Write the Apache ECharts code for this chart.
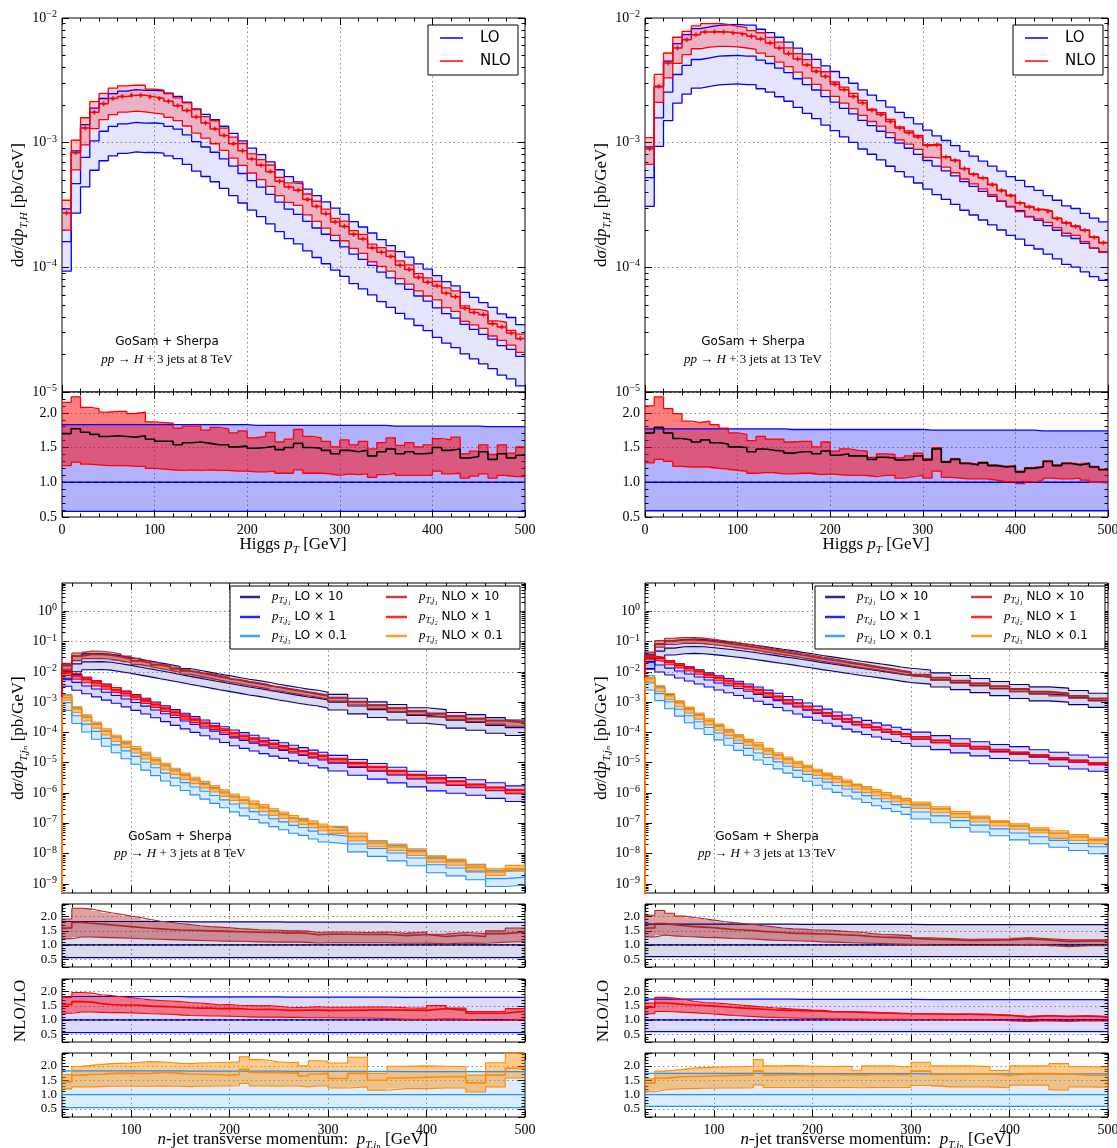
<!DOCTYPE html>
<html><head><meta charset="utf-8">
<script src="https://cdn.jsdelivr.net/npm/echarts@6/dist/echarts.min.js"></script>
<style>html,body{margin:0;padding:0;background:#fff}#c{width:1117px;height:1148px}</style>
</head><body><div id="c"></div>
<script>
// ---------------- DATA ----------------
// Higgs pT bins (GeV)
const HIGGS_EDGES = [0,10,20,30,40,50,60,70,80,90,100,110,120,130,140,150,160,170,180,190,200,210,220,230,240,250,260,270,280,290,300,310,320,330,340,350,360,370,380,390,400,410,420,430,440,450,460,470,480,490,500];
// 8 TeV: NLO central dsigma/dpT (pb/GeV)
const H8_NLO = [2.73e-4,8.3e-4,1.31e-3,1.75e-3,2.05e-3,2.26e-3,2.35e-3,2.40e-3,2.40e-3,2.33e-3,2.26e-3,2.15e-3,1.98e-3,1.81e-3,1.61e-3,1.44e-3,1.29e-3,1.14e-3,9.8e-4,8.6e-4,7.4e-4,6.6e-4,5.85e-4,4.9e-4,4.4e-4,4.15e-4,3.5e-4,3.08e-4,2.69e-4,2.31e-4,2.13e-4,1.84e-4,1.69e-4,1.43e-4,1.32e-4,1.22e-4,1.04e-4,9.6e-5,8.3e-5,7.6e-5,7.1e-5,6.2e-5,5.8e-5,4.7e-5,4.35e-5,4.17e-5,3.53e-5,3.32e-5,2.97e-5,2.68e-5];
// 8 TeV ratios to LO central
const H8_R = [1.70,1.77,1.72,1.69,1.66,1.67,1.66,1.65,1.67,1.62,1.59,1.59,1.54,1.57,1.58,1.56,1.54,1.54,1.51,1.52,1.49,1.50,1.52,1.47,1.50,1.56,1.50,1.49,1.46,1.41,1.46,1.44,1.46,1.38,1.44,1.48,1.41,1.44,1.41,1.42,1.50,1.46,1.48,1.35,1.37,1.44,1.33,1.41,1.35,1.39];
const H8_R_NLO_HI = [2.15,2.23,2.08,2.06,2.01,2.02,2.02,1.99,2.01,1.87,1.86,1.85,1.78,1.81,1.81,1.75,1.79,1.77,1.71,1.74,1.64,1.66,1.72,1.58,1.62,1.76,1.66,1.64,1.59,1.51,1.61,1.54,1.59,1.48,1.57,1.64,1.53,1.57,1.51,1.54,1.63,1.61,1.65,1.41,1.45,1.54,1.40,1.54,1.42,1.51];
const H8_R_NLO_LO = [1.24,1.29,1.26,1.25,1.24,1.24,1.24,1.23,1.23,1.20,1.19,1.18,1.17,1.18,1.17,1.18,1.17,1.17,1.16,1.16,1.15,1.15,1.16,1.13,1.13,1.18,1.13,1.13,1.12,1.10,1.12,1.11,1.12,1.07,1.11,1.13,1.10,1.10,1.10,1.10,1.16,1.12,1.13,1.06,1.09,1.12,1.06,1.10,1.08,1.08];
const H8_R_LO_HI = [1.83,1.83,1.83,1.83,1.83,1.83,1.83,1.83,1.83,1.83,1.83,1.83,1.83,1.83,1.83,1.83,1.83,1.83,1.83,1.83,1.82,1.82,1.82,1.82,1.82,1.82,1.82,1.82,1.82,1.82,1.82,1.82,1.82,1.82,1.82,1.81,1.81,1.81,1.81,1.81,1.81,1.81,1.81,1.81,1.81,1.80,1.80,1.80,1.80,1.80];
const H8_R_LO_LO = [0.58,0.58,0.58,0.58,0.58,0.58,0.58,0.58,0.58,0.58,0.58,0.58,0.58,0.58,0.58,0.58,0.58,0.58,0.58,0.58,0.58,0.58,0.58,0.58,0.58,0.58,0.58,0.58,0.58,0.58,0.58,0.58,0.58,0.58,0.58,0.58,0.58,0.58,0.58,0.58,0.58,0.58,0.58,0.58,0.58,0.58,0.58,0.58,0.58,0.58];
// 13 TeV
const H13_NLO = [8.95e-4,2.83e-3,4.35e-3,5.74e-3,6.7e-3,7.34e-3,7.72e-3,7.75e-3,7.72e-3,7.58e-3,7.43e-3,7.13e-3,6.79e-3,6.3e-3,5.74e-3,5.17e-3,4.69e-3,4.2e-3,3.73e-3,3.4e-3,2.94e-3,2.66e-3,2.35e-3,2.08e-3,1.82e-3,1.68e-3,1.48e-3,1.31e-3,1.2e-3,1.11e-3,9.5e-4,9.6e-4,7.67e-4,7.2e-4,6.18e-4,5.57e-4,5.2e-4,4.6e-4,4.12e-4,3.76e-4,3.28e-4,3.05e-4,2.9e-4,2.81e-4,2.46e-4,2.27e-4,2.13e-4,1.98e-4,1.74e-4,1.57e-4];
const H13_R = [1.71,1.79,1.71,1.63,1.61,1.58,1.61,1.57,1.55,1.51,1.50,1.44,1.48,1.46,1.45,1.42,1.44,1.44,1.41,1.45,1.39,1.41,1.38,1.38,1.33,1.36,1.35,1.32,1.33,1.38,1.32,1.48,1.29,1.33,1.27,1.25,1.28,1.24,1.22,1.23,1.15,1.20,1.22,1.30,1.24,1.27,1.25,1.27,1.22,1.18];
const H13_R_NLO_HI = [2.10,2.23,2.06,1.99,1.88,1.86,1.88,1.83,1.78,1.71,1.69,1.60,1.66,1.62,1.62,1.58,1.59,1.59,1.51,1.58,1.45,1.48,1.46,1.45,1.36,1.41,1.40,1.35,1.38,1.42,1.34,1.50,1.30,1.34,1.28,1.26,1.29,1.25,1.23,1.24,1.16,1.21,1.23,1.31,1.25,1.28,1.26,1.28,1.23,1.19];
const H13_R_NLO_LO = [1.28,1.33,1.30,1.23,1.22,1.22,1.22,1.20,1.19,1.17,1.16,1.13,1.14,1.14,1.12,1.12,1.13,1.13,1.11,1.12,1.11,1.10,1.10,1.10,1.08,1.10,1.10,1.06,1.08,1.10,1.06,1.16,1.07,1.06,1.05,1.05,1.05,1.03,1.01,1.01,0.98,1.01,1.03,1.06,1.05,1.05,1.06,1.03,1.00,0.99];
const H13_R_LO_HI = [1.77,1.77,1.77,1.77,1.77,1.77,1.77,1.77,1.77,1.77,1.77,1.77,1.77,1.77,1.77,1.76,1.76,1.76,1.76,1.76,1.76,1.76,1.76,1.76,1.76,1.76,1.76,1.76,1.76,1.76,1.75,1.75,1.75,1.75,1.75,1.75,1.75,1.75,1.75,1.75,1.75,1.75,1.74,1.74,1.74,1.74,1.74,1.74,1.74,1.74];
const H13_R_LO_LO = [0.59,0.59,0.59,0.59,0.59,0.59,0.59,0.59,0.59,0.59,0.59,0.59,0.59,0.59,0.59,0.59,0.59,0.59,0.59,0.59,0.59,0.59,0.59,0.59,0.59,0.59,0.59,0.59,0.59,0.59,0.59,0.59,0.59,0.59,0.59,0.59,0.59,0.59,0.59,0.59,0.59,0.59,0.59,0.59,0.59,0.59,0.59,0.59,0.59,0.59];

// Jet pT bins (GeV)
const JET_EDGES = [30,40,50,60,70,80,90,100,110,120,130,140,150,160,170,180,190,200,210,220,230,240,250,260,270,280,290,300,320,340,360,380,400,420,440,460,480,500];
// Jet plot decade ticks
const JET_Y_TICKS = [1e-9,1e-8,1e-7,1e-6,1e-5,1e-4,1e-3,1e-2,1e-1,1];
// 8 TeV, plotted values (j1 x10, j2 x1, j3 x0.1)
const J8_J1_NLO = [0.016,0.033,0.038,0.038,0.0355,0.031,0.027,0.023,0.0198,0.0170,0.0147,0.0126,0.0108,0.0094,0.0081,0.0070,0.0061,0.0053,0.0046,0.0041,0.0036,0.0031,0.0027,0.0024,0.0021,0.00185,0.00162,0.00138,0.00102,0.00078,0.00062,0.00050,0.00041,0.00034,0.00028,0.00024,0.00021];
const J8_J1_R = [1.60,1.80,1.77,1.74,1.71,1.68,1.65,1.62,1.59,1.57,1.55,1.53,1.52,1.51,1.50,1.49,1.48,1.47,1.46,1.45,1.44,1.44,1.42,1.43,1.41,1.36,1.38,1.38,1.37,1.38,1.33,1.37,1.30,1.35,1.30,1.40,1.46];
const J8_J1_R_HI = [1.92,2.30,2.27,2.20,2.14,2.09,2.02,1.97,1.90,1.84,1.80,1.76,1.72,1.68,1.65,1.63,1.61,1.58,1.56,1.54,1.53,1.52,1.50,1.50,1.49,1.44,1.46,1.46,1.44,1.46,1.41,1.46,1.38,1.44,1.40,1.50,1.60];
const J8_J1_R_LO = [1.22,1.28,1.28,1.27,1.26,1.25,1.24,1.22,1.21,1.20,1.19,1.18,1.17,1.16,1.15,1.14,1.13,1.13,1.12,1.11,1.11,1.10,1.10,1.10,1.09,1.07,1.08,1.08,1.08,1.08,1.06,1.07,1.04,1.07,1.06,1.10,1.12];
const J8_J2_NLO = [9.5e-3,7.4e-3,5.6e-3,4.3e-3,3.3e-3,2.55e-3,1.95e-3,1.48e-3,1.10e-3,8.2e-4,6.1e-4,4.5e-4,3.4e-4,2.6e-4,2.0e-4,1.55e-4,1.2e-4,9.3e-5,7.5e-5,6.1e-5,5.0e-5,4.1e-5,3.4e-5,2.8e-5,2.35e-5,1.95e-5,1.65e-5,1.3e-5,9.5e-6,7.1e-6,5.3e-6,3.9e-6,3.0e-6,2.4e-6,1.9e-6,1.5e-6,1.25e-6];
const J8_J2_R = [1.55,1.65,1.63,1.58,1.55,1.53,1.53,1.52,1.49,1.48,1.47,1.45,1.43,1.42,1.42,1.40,1.41,1.40,1.38,1.37,1.38,1.36,1.34,1.34,1.35,1.35,1.34,1.34,1.35,1.36,1.35,1.34,1.40,1.34,1.24,1.24,1.31];
const J8_J2_R_HI = [1.80,1.97,1.95,1.89,1.86,1.82,1.79,1.75,1.71,1.69,1.67,1.65,1.62,1.60,1.57,1.54,1.55,1.52,1.51,1.50,1.51,1.48,1.45,1.44,1.45,1.47,1.45,1.45,1.46,1.46,1.43,1.42,1.51,1.42,1.30,1.30,1.40];
const J8_J2_R_LO = [1.24,1.28,1.28,1.27,1.26,1.26,1.25,1.24,1.22,1.21,1.20,1.18,1.16,1.15,1.14,1.14,1.13,1.12,1.11,1.10,1.10,1.10,1.09,1.09,1.08,1.08,1.08,1.07,1.07,1.05,1.02,1.02,1.04,1.02,0.98,0.98,1.02];
const J8_J3_NLO = [1.4e-3,6.0e-4,3.2e-4,1.85e-4,1.1e-4,6.8e-5,4.3e-5,2.8e-5,1.8e-5,1.2e-5,8.0e-6,5.5e-6,3.8e-6,2.7e-6,1.95e-6,1.4e-6,1.0e-6,7.4e-7,6.0e-7,4.3e-7,3.3e-7,2.5e-7,1.95e-7,1.5e-7,1.2e-7,9.5e-8,7.6e-8,5.9e-8,3.6e-8,2.2e-8,1.65e-8,1.15e-8,6.9e-9,5.4e-9,3.5e-9,2.5e-9,3.2e-9];
const J8_J3_R = [1.45,1.68,1.70,1.71,1.73,1.75,1.74,1.73,1.74,1.76,1.76,1.74,1.72,1.71,1.70,1.69,1.68,1.70,1.88,1.77,1.76,1.77,1.75,1.76,1.65,1.72,1.74,1.56,1.74,1.50,1.58,1.60,1.62,1.62,1.41,1.68,1.92];
const J8_J3_R_HI = [1.70,1.98,2.02,2.05,2.08,2.09,2.10,2.13,2.15,2.14,2.12,2.09,2.08,2.10,2.11,2.12,2.13,2.14,2.32,2.22,2.20,2.14,2.12,2.13,2.00,2.18,2.17,2.10,2.30,1.74,1.99,2.00,1.99,1.97,1.68,2.11,2.45];
const J8_J3_R_LO = [1.20,1.27,1.27,1.28,1.29,1.29,1.29,1.29,1.29,1.30,1.29,1.29,1.28,1.29,1.29,1.30,1.30,1.31,1.39,1.30,1.30,1.29,1.30,1.30,1.27,1.30,1.30,1.23,1.27,1.15,1.21,1.21,1.23,1.23,1.09,1.27,1.58];
const J8_R_LO_HI = [1.83,1.83,1.83,1.83,1.83,1.83,1.83,1.83,1.83,1.83,1.83,1.83,1.82,1.82,1.82,1.82,1.82,1.82,1.82,1.82,1.82,1.82,1.81,1.81,1.81,1.81,1.81,1.81,1.81,1.81,1.80,1.80,1.80,1.80,1.80,1.80,1.80];
const J8_R_LO_LO = [0.55,0.55,0.55,0.55,0.55,0.55,0.55,0.55,0.55,0.55,0.55,0.55,0.55,0.55,0.55,0.55,0.55,0.55,0.55,0.55,0.55,0.55,0.55,0.55,0.55,0.55,0.55,0.55,0.55,0.55,0.55,0.55,0.55,0.55,0.55,0.55,0.55];
// 13 TeV
const J13_J1_NLO = [0.035,0.085,0.105,0.113,0.114,0.110,0.101,0.092,0.083,0.075,0.067,0.059,0.052,0.046,0.041,0.036,0.032,0.028,0.025,0.022,0.0195,0.0172,0.0152,0.0135,0.0120,0.0106,0.0094,0.0080,0.0064,0.0051,0.0041,0.0033,0.0027,0.0022,0.0019,0.0016,0.0013];
const J13_J1_R = [1.60,1.76,1.72,1.68,1.65,1.63,1.61,1.58,1.55,1.53,1.51,1.48,1.46,1.44,1.42,1.41,1.40,1.39,1.38,1.36,1.35,1.33,1.30,1.28,1.27,1.26,1.24,1.20,1.19,1.16,1.17,1.18,1.21,1.18,1.12,1.14,1.14];
const J13_J1_R_HI = [2.05,2.22,2.12,2.02,1.97,1.93,1.88,1.83,1.79,1.76,1.72,1.68,1.64,1.60,1.57,1.56,1.54,1.53,1.52,1.49,1.47,1.45,1.40,1.38,1.37,1.35,1.33,1.25,1.23,1.20,1.21,1.21,1.26,1.22,1.18,1.18,1.18];
const J13_J1_R_LO = [1.28,1.35,1.32,1.30,1.29,1.27,1.26,1.25,1.23,1.22,1.21,1.19,1.17,1.16,1.15,1.14,1.13,1.11,1.10,1.09,1.08,1.07,1.06,1.05,1.04,1.03,1.02,1.00,0.99,0.98,0.99,0.99,1.02,1.00,0.94,0.97,0.97];
const J13_J2_NLO = [0.030,0.027,0.021,0.0165,0.0130,0.0102,0.0080,0.0063,0.0050,0.0040,0.0032,2.5e-3,1.95e-3,1.52e-3,1.18e-3,9.2e-4,7.2e-4,5.6e-4,4.4e-4,3.5e-4,2.8e-4,2.25e-4,1.82e-4,1.5e-4,1.25e-4,1.05e-4,8.9e-5,7.2e-5,5.5e-5,4.3e-5,3.4e-5,2.7e-5,2.2e-5,1.8e-5,1.45e-5,1.2e-5,9.8e-6];
const J13_J2_R = [1.45,1.60,1.58,1.55,1.53,1.51,1.49,1.47,1.44,1.42,1.40,1.38,1.36,1.35,1.34,1.33,1.32,1.31,1.29,1.28,1.28,1.27,1.26,1.25,1.24,1.23,1.22,1.21,1.20,1.20,1.19,1.16,1.11,1.15,1.12,1.14,1.11];
const J13_J2_R_HI = [1.60,1.80,1.78,1.72,1.66,1.62,1.60,1.58,1.55,1.52,1.49,1.46,1.43,1.41,1.39,1.37,1.35,1.34,1.31,1.30,1.29,1.28,1.27,1.26,1.25,1.24,1.23,1.22,1.21,1.21,1.20,1.17,1.12,1.16,1.13,1.15,1.12];
const J13_J2_R_LO = [1.22,1.30,1.29,1.27,1.26,1.23,1.21,1.19,1.16,1.14,1.12,1.10,1.09,1.08,1.07,1.06,1.05,1.05,1.04,1.04,1.03,1.03,1.02,1.02,1.02,1.02,1.01,1.01,1.01,1.00,1.00,0.97,0.95,0.97,0.95,0.97,0.96];
const J13_J3_NLO = [6.0e-3,3.0e-3,1.65e-3,9.5e-4,5.8e-4,3.7e-4,2.4e-4,1.6e-4,1.07e-4,7.3e-5,5.0e-5,3.8e-5,2.5e-5,1.8e-5,1.3e-5,9.5e-6,7.0e-6,5.2e-6,3.9e-6,3.0e-6,2.3e-6,1.8e-6,1.4e-6,1.1e-6,8.8e-7,7.0e-7,5.7e-7,4.3e-7,3.0e-7,2.1e-7,1.5e-7,1.1e-7,8.3e-8,6.2e-8,4.7e-8,3.6e-8,2.8e-8];
const J13_J3_R = [1.40,1.57,1.60,1.62,1.63,1.64,1.65,1.66,1.67,1.68,1.68,1.82,1.68,1.69,1.69,1.70,1.69,1.70,1.70,1.69,1.70,1.68,1.70,1.70,1.70,1.69,1.70,1.82,1.70,1.71,1.72,1.68,1.73,1.73,1.72,1.68,1.67];
const J13_J3_R_HI = [1.55,1.82,1.85,1.88,1.93,1.94,1.95,1.96,1.97,1.97,1.98,2.22,2.00,2.00,2.01,2.00,1.99,1.99,1.98,1.99,1.98,1.85,2.00,2.00,2.00,1.97,1.98,2.13,2.00,2.00,1.98,1.84,2.00,2.00,2.08,1.97,1.96];
const J13_J3_R_LO = [1.10,1.16,1.19,1.21,1.21,1.22,1.22,1.23,1.23,1.23,1.24,1.34,1.25,1.25,1.25,1.25,1.25,1.25,1.25,1.25,1.25,1.24,1.25,1.25,1.25,1.25,1.25,1.32,1.27,1.27,1.27,1.24,1.33,1.33,1.16,1.27,1.26];
const J13_R_LO_HI = [1.74,1.74,1.74,1.74,1.74,1.74,1.74,1.74,1.74,1.74,1.74,1.74,1.74,1.74,1.74,1.73,1.73,1.73,1.73,1.73,1.73,1.73,1.73,1.73,1.73,1.73,1.73,1.72,1.72,1.72,1.72,1.72,1.72,1.72,1.72,1.72,1.72];
const J13_R_LO_LO = [0.59,0.59,0.59,0.59,0.59,0.59,0.59,0.59,0.59,0.59,0.59,0.59,0.59,0.59,0.59,0.59,0.59,0.59,0.59,0.59,0.59,0.59,0.59,0.59,0.59,0.59,0.59,0.59,0.59,0.59,0.59,0.59,0.59,0.59,0.59,0.59,0.59];

// ---------------- STYLE / HELPERS ----------------
const SERIF = '"Liberation Serif","DejaVu Serif",serif';
const SANS = '"DejaVu Sans","Liberation Sans",sans-serif';
const JET_STYLE = [
  {lo:'#000080', nlo:'#b22222', loFill:'rgba(0,0,128,0.15)', nloFill:'rgba(178,34,34,0.45)', rLoFill:'rgba(0,0,128,0.14)', rNloFill:'rgba(178,34,34,0.42)'},
  {lo:'#0000ff', nlo:'#ff0000', loFill:'rgba(0,0,255,0.15)', nloFill:'rgba(255,0,0,0.45)', rLoFill:'rgba(0,0,255,0.14)', rNloFill:'rgba(255,0,0,0.45)'},
  {lo:'#1e90ff', nlo:'#ff8c00', loFill:'rgba(30,144,255,0.18)', nloFill:'rgba(255,140,0,0.45)', rLoFill:'rgba(30,144,255,0.16)', rNloFill:'rgba(255,140,0,0.45)'}
];
const GRID_COLOR = '#8a8a8a';
const grids = [], xAxes = [], yAxes = [], series = [], graphics = [];
const TICK = {show:true, inside:true, length:7, lineStyle:{color:'#000', width:1}};
const MINOR = {show:true, splitNumber:5, length:3.5, lineStyle:{color:'#000', width:1}};
const GRIDLINE = {show:true, lineStyle:{color:GRID_COLOR, width:1, type:[1.5,3]}};

function powLabel(v) {
  const e = Math.log10(v), r = Math.round(e);
  if (Math.abs(e - r) > 1e-6) return '';
  return '10{sup|' + (r < 0 ? '\u2212' + (-r) : r) + '}';
}
function halfLabel(v) { return Math.abs(v * 2 - Math.round(v * 2)) < 1e-6 ? v.toFixed(1) : ''; }
function hundredLabel(v) { return Math.abs(v / 100 - Math.round(v / 100)) < 1e-6 ? String(Math.round(v)) : ''; }
function logMinorValues(min, max) {
  const out = [];
  for (let k = Math.floor(Math.log10(min)); k <= Math.ceil(Math.log10(max)); k++) {
    for (let d = 2; d <= 9; d++) { const v = d * Math.pow(10, k); if (v > min && v < max) out.push(v); }
  }
  return out;
}

function makePanel(rect, xc, yc) {
  const gi = grids.length;
  grids.push({left:rect[0], top:rect[1], width:rect[2], height:rect[3], show:true, borderColor:'#000', borderWidth:1,
    backgroundColor:'rgba(0,0,0,0)', containLabel:false, outerBoundsMode:'none'});
  const xb = {type:'value', gridIndex:gi, min:xc.min, max:xc.max, splitNumber:5, axisLine:{show:false, onZero:false}};
  if (xc.interval) xb.interval = xc.interval;
  const xi = xAxes.length;
  xAxes.push(Object.assign({}, xb, {position:'bottom', axisTick:TICK, minorTick:MINOR, splitLine:GRIDLINE,
    axisLabel: xc.labels ? {show:true, formatter:hundredLabel, fontFamily:SERIF, fontSize:14, color:'#000', margin:6} : {show:false}}));
  xAxes.push(Object.assign({}, xb, {position:'top', axisTick:TICK, minorTick:MINOR, splitLine:{show:false}, axisLabel:{show:false}}));
  const yi = yAxes.length;
  if (yc.log) {
    const yb = {type:'log', logBase:10, gridIndex:gi, min:yc.min, max:yc.max, splitNumber:10, axisLine:{show:false, onZero:false}};
    const lab = {formatter:powLabel, fontFamily:SERIF, fontSize:14, color:'#000', margin:5, lineHeight:17,
        rich:{sup:{fontFamily:SERIF, fontSize:10, lineHeight:10, verticalAlign:'top', color:'#000'}}};
    const tk = Object.assign({}, TICK);
    if (yc.ticks) { lab.customValues = yc.ticks; tk.customValues = yc.ticks; }
    yAxes.push(Object.assign({}, yb, {position:'left', axisTick:tk, splitLine: yc.ticks ? {show:false} : GRIDLINE, axisLabel:lab}));
    yAxes.push(Object.assign({}, yb, {position:'right', axisTick:tk, splitLine:{show:false}, axisLabel:{show:false}}));
    const mt = {show:true, inside:true, length:3.5, lineStyle:{color:'#000', width:1}, customValues: logMinorValues(yc.min, yc.max)};
    yAxes.push(Object.assign({}, yb, {position:'left', axisTick:mt, splitLine:{show:false}, axisLabel:{show:false}}));
    yAxes.push(Object.assign({}, yb, {position:'right', axisTick:mt, splitLine:{show:false}, axisLabel:{show:false}}));
    if (yc.ticks) {
      series.push({type:'line', xAxisIndex:xi, yAxisIndex:yi, data:[], z:1, silent:true, animation:false,
        markLine:{silent:true, animation:false, symbol:['none','none'], label:{show:false},
          lineStyle:{color:GRID_COLOR, width:1, type:[1.5,3]},
          data: yc.ticks.map(function (v) { return {yAxis:v}; })}});
    }
  } else {
    const yb = {type:'value', gridIndex:gi, min:yc.min, max:yc.max, splitNumber:yc.split || 5, axisLine:{show:false, onZero:false}};
    if (yc.interval) yb.interval = yc.interval;
    yAxes.push(Object.assign({}, yb, {position:'left', axisTick:TICK, minorTick:MINOR, splitLine:GRIDLINE,
      axisLabel:{formatter:halfLabel, fontFamily:SERIF, fontSize:yc.fs || 14, color:'#000', margin:5}}));
    yAxes.push(Object.assign({}, yb, {position:'right', axisTick:TICK, minorTick:MINOR, splitLine:{show:false}, axisLabel:{show:false}}));
  }
  return {xi: xi, yi: yi};
}

function stepPts(edges, vals, base) {
  const pts = [];
  if (base !== undefined) pts.push([edges[0], base]);
  for (let i = 0; i < vals.length; i++) { pts.push([edges[i], vals[i]]); pts.push([edges[i + 1], vals[i]]); }
  return pts;
}
function stepLine(ax, edges, vals, color, width, z, opts) {
  opts = opts || {};
  return {type:'line', xAxisIndex:ax.xi, yAxisIndex:ax.yi, data:stepPts(edges, vals, opts.base),
    showSymbol:false, symbol:'none', silent:true, animation:false, clip:true, z:z,
    lineStyle:{color:color, width:width, type:opts.dash || 'solid', opacity:opts.opacity || 1}};
}
function band(ax, edges, lo, hi, fill, z) {
  return {type:'custom', xAxisIndex:ax.xi, yAxisIndex:ax.yi, z:z, silent:true, animation:false,
    data:[[edges[0], hi[0]]],
    renderItem:function (params, api) {
      const cs = params.coordSys;
      const pts = [];
      for (let i = 0; i < hi.length; i++) { pts.push(api.coord([edges[i], hi[i]])); pts.push(api.coord([edges[i + 1], hi[i]])); }
      for (let i = lo.length - 1; i >= 0; i--) { pts.push(api.coord([edges[i + 1], lo[i]])); pts.push(api.coord([edges[i], lo[i]])); }
      const cl = pts.map(function (p) {
        return [Math.min(Math.max(p[0], cs.x), cs.x + cs.width), Math.min(Math.max(p[1], cs.y), cs.y + cs.height)];
      });
      return {type:'polygon', shape:{points:cl}, style:{fill:fill, stroke:null}};
    }};
}
function errBars(ax, edges, vals, color) {
  const data = vals.map(function (v, i) { return [(edges[i] + edges[i + 1]) / 2, v]; });
  return {type:'custom', xAxisIndex:ax.xi, yAxisIndex:ax.yi, z:8, silent:true, animation:false, data:data,
    renderItem:function (params, api) {
      const p = api.coord([api.value(0), api.value(1)]);
      return {type:'group', children:[
        {type:'line', shape:{x1:p[0], y1:p[1] - 2.5, x2:p[0], y2:p[1] + 2.5}, style:{stroke:color, lineWidth:1}},
        {type:'rect', shape:{x:p[0] - 1.5, y:p[1] - 1.2, width:3, height:2.4}, style:{fill:color}}
      ]};
    }};
}
function div(a, b) { return a.map(function (v, i) { return v / b[i]; }); }
function mul(a, b) { return a.map(function (v, i) { return v * b[i]; }); }

// ---------------- PANELS ----------------
function higgsPanel(left, d) {
  const m = makePanel([left, 18, 463, 374], {min:0, max:500, interval:100, labels:false}, {log:true, min:1e-5, max:1e-2});
  const r = makePanel([left, 392, 463, 125], {min:0, max:500, interval:100, labels:true}, {log:false, min:0.5, max:2.3, interval:0.5});
  const E = HIGGS_EDGES;
  const loC = div(d.nlo, d.r);
  const loLo = mul(loC, d.rLoLo), loHi = mul(loC, d.rLoHi);
  const nLo = mul(loC, d.rNloLo), nHi = mul(loC, d.rNloHi);
  const one = div(loC, loC);
  series.push(band(m, E, loLo, loHi, 'rgba(0,0,255,0.10)', 2));
  series.push(band(m, E, nLo, nHi, 'rgba(255,0,0,0.22)', 3));
  [loLo, loC, loHi].forEach(function (a) { series.push(stepLine(m, E, a, '#0000ff', 1.3, 5)); });
  [nLo, nHi].forEach(function (a) { series.push(stepLine(m, E, a, '#ff0000', 1.3, 6)); });
  series.push(stepLine(m, E, d.nlo, '#ff0000', 1.5, 7));
  series.push(errBars(m, E, d.nlo, '#ff0000'));
  series.push(band(r, E, d.rLoLo, d.rLoHi, 'rgba(0,0,255,0.30)', 2));
  series.push(band(r, E, d.rNloLo, d.rNloHi, 'rgba(255,0,0,0.50)', 3));
  series.push(stepLine(r, E, d.rLoLo, '#0000ff', 1.3, 5));
  series.push(stepLine(r, E, d.rLoHi, '#0000ff', 1.3, 5));
  series.push(stepLine(r, E, one, '#0000ff', 1.6, 5));
  series.push(stepLine(r, E, one, '#000033', 1, 6, {dash:[4, 4]}));
  series.push(stepLine(r, E, d.rNloLo, '#ff0000', 1.3, 6));
  series.push(stepLine(r, E, d.rNloHi, '#ff0000', 1.3, 6));
  series.push(stepLine(r, E, d.r, '#000000', 1.6, 7));
}

function jetPanel(left, d) {
  const m = makePanel([left, 583, 463, 310], {min:30, max:500, labels:false}, {log:true, min:5e-10, max:8.6, ticks:JET_Y_TICKS});
  const tops = [904, 979, 1053], hs = [63, 63, 64];
  const rs = tops.map(function (t, k) {
    return makePanel([left, t, 463, hs[k]], {min:30, max:500, labels:k === 2}, {log:false, min:0.22, max:2.45, split:4, fs:13});
  });
  const E = JET_EDGES;
  d.jets.forEach(function (j, k) {
    const st = JET_STYLE[k];
    const loC = div(j.nlo, j.r);
    const loLo = mul(loC, d.rLoLo), loHi = mul(loC, d.rLoHi);
    const nLo = mul(loC, j.rLo), nHi = mul(loC, j.rHi);
    const one = div(loC, loC);
    series.push(band(m, E, loLo, loHi, st.loFill, 2));
    series.push(band(m, E, nLo, nHi, st.nloFill, 3));
    [loLo, loC, loHi].forEach(function (a) { series.push(stepLine(m, E, a, st.lo, 1.1, 5, {base:1e-12})); });
    [nLo, nHi].forEach(function (a) { series.push(stepLine(m, E, a, st.nlo, 1.1, 6, {base:1e-12})); });
    series.push(stepLine(m, E, j.nlo, st.nlo, 1.7, 7, {base:1e-12}));
    const r = rs[k];
    series.push(band(r, E, d.rLoLo, d.rLoHi, st.rLoFill, 2));
    series.push(band(r, E, j.rLo, j.rHi, st.rNloFill, 3));
    series.push(stepLine(r, E, d.rLoLo, st.lo, 1.2, 5));
    series.push(stepLine(r, E, d.rLoHi, st.lo, 1.2, 5));
    series.push(stepLine(r, E, one, st.lo, 1.3, 5));
    if (k < 2) series.push(stepLine(r, E, one, '#000020', 1, 6, {dash:[3, 3]}));
    series.push(stepLine(r, E, j.rLo, st.nlo, 1.1, 6));
    series.push(stepLine(r, E, j.rHi, st.nlo, 1.1, 6));
    series.push(stepLine(r, E, j.r, st.nlo, 1.6, 7));
  });
}

higgsPanel(62, {nlo:H8_NLO, r:H8_R, rNloLo:H8_R_NLO_LO, rNloHi:H8_R_NLO_HI, rLoLo:H8_R_LO_LO, rLoHi:H8_R_LO_HI});
higgsPanel(645, {nlo:H13_NLO, r:H13_R, rNloLo:H13_R_NLO_LO, rNloHi:H13_R_NLO_HI, rLoLo:H13_R_LO_LO, rLoHi:H13_R_LO_HI});
jetPanel(62, {rLoLo:J8_R_LO_LO, rLoHi:J8_R_LO_HI, jets:[
  {nlo:J8_J1_NLO, r:J8_J1_R, rLo:J8_J1_R_LO, rHi:J8_J1_R_HI},
  {nlo:J8_J2_NLO, r:J8_J2_R, rLo:J8_J2_R_LO, rHi:J8_J2_R_HI},
  {nlo:J8_J3_NLO, r:J8_J3_R, rLo:J8_J3_R_LO, rHi:J8_J3_R_HI}]});
jetPanel(645, {rLoLo:J13_R_LO_LO, rLoHi:J13_R_LO_HI, jets:[
  {nlo:J13_J1_NLO, r:J13_J1_R, rLo:J13_J1_R_LO, rHi:J13_J1_R_HI},
  {nlo:J13_J2_NLO, r:J13_J2_R, rLo:J13_J2_R_LO, rHi:J13_J2_R_HI},
  {nlo:J13_J3_NLO, r:J13_J3_R, rLo:J13_J3_R_LO, rHi:J13_J3_R_HI}]});

// ---------------- TEXT / LEGENDS ----------------
const RICH = {
  t:{fontFamily:SERIF, fontSize:17, lineHeight:22},
  i:{fontFamily:SERIF, fontSize:17, fontStyle:'italic', lineHeight:22},
  s:{fontFamily:SERIF, fontSize:11, fontStyle:'italic', lineHeight:11, verticalAlign:'bottom'}
};
const RICH_S = {
  t:{fontFamily:SERIF, fontSize:13, lineHeight:17},
  i:{fontFamily:SERIF, fontSize:13, fontStyle:'italic', lineHeight:17}
};
const RICH_L = {
  i:{fontFamily:SERIF, fontSize:13, fontStyle:'italic', lineHeight:17},
  s:{fontFamily:SERIF, fontSize:9, fontStyle:'italic', lineHeight:8, verticalAlign:'bottom'},
  n:{fontFamily:SANS, fontSize:12, lineHeight:17}
};
function txt(x, y, text, rich, opts) {
  opts = opts || {};
  return {type:'text', x:x, y:y, rotation:opts.rot || 0, z:120, silent:true,
    style:{text:text, rich:rich, fontFamily:opts.font || SERIF, fontSize:opts.size || 15, fill:'#000',
      align:opts.align || 'center', verticalAlign:'middle', textAlign:opts.align || 'center', textVerticalAlign:'middle'}};
}
[[0, '8'], [583, '13']].forEach(function (c) {
  const dx = c[0], E = c[1];
  // axis titles
  graphics.push(txt(19 + dx, 205, '{t|d}{i|\u03c3}{t|/d}{i|p}{s|T,H}{t| [pb/GeV]}', RICH, {rot:Math.PI / 2}));
  graphics.push(txt(293 + dx, 545, '{t|Higgs }{i|p}{s|T}{t| [GeV]}', RICH));
  graphics.push(txt(19 + dx, 738, '{t|d}{i|\u03c3}{t|/d}{i|p}{s|T,j\u2099}{t| [pb/GeV]}', RICH, {rot:Math.PI / 2}));
  graphics.push(txt(21 + dx, 1011, '{t|NLO/LO}', RICH, {rot:Math.PI / 2}));
  graphics.push(txt(293 + dx, 1140, '{i|n}{t|-jet transverse momentum:  }{i|p}{s|T,j\u2099}{t| [GeV]}', RICH));
  // annotations
  const ax = dx === 0 ? 167 : 753, jx = dx === 0 ? 180 : 767;
  graphics.push(txt(ax, 342, 'GoSam + Sherpa', null, {font:SANS, size:12}));
  graphics.push(txt(ax, 360, '{i|pp} {t|\u2192} {i|H} {t|+ 3 jets at ' + E + ' TeV}', RICH_S, {size:13}));
  graphics.push(txt(jx, 837, 'GoSam + Sherpa', null, {font:SANS, size:12}));
  graphics.push(txt(jx, 854, '{i|pp} {t|\u2192} {i|H} {t|+ 3 jets at ' + E + ' TeV}', RICH_S, {size:13}));
  // Higgs legend
  const lx = dx === 0 ? 428 : 1013;
  graphics.push({type:'rect', z:110, silent:true, shape:{x:lx, y:25, width:90, height:50}, style:{fill:'#fff', stroke:'#000', lineWidth:1}});
  graphics.push({type:'line', z:111, silent:true, shape:{x1:lx + 12, y1:38, x2:lx + 35, y2:38}, style:{stroke:'#0000ff', lineWidth:1.5}});
  graphics.push({type:'line', z:111, silent:true, shape:{x1:lx + 12, y1:61, x2:lx + 35, y2:61}, style:{stroke:'#ff0000', lineWidth:1.5}});
  graphics.push(txt(lx + 52, 38, 'LO', null, {font:SANS, size:15, align:'left'}));
  graphics.push(txt(lx + 52, 61, 'NLO', null, {font:SANS, size:15, align:'left'}));
  // Jet legend
  const bx = dx === 0 ? 230 : 815;
  graphics.push({type:'rect', z:110, silent:true, shape:{x:bx, y:586, width:290, height:63}, style:{fill:'#fff', stroke:'#000', lineWidth:1}});
  const rows = [597, 617, 636];
  const factors = ['10', '1', '0.1'];
  const subs = ['\u2081', '\u2082', '\u2083'];
  rows.forEach(function (ry, k) {
    const st = JET_STYLE[k];
    graphics.push({type:'line', z:111, silent:true, shape:{x1:bx + 10, y1:ry, x2:bx + 30, y2:ry}, style:{stroke:st.lo, lineWidth:2.5, opacity:0.85}});
    graphics.push({type:'line', z:111, silent:true, shape:{x1:bx + 156, y1:ry, x2:bx + 177, y2:ry}, style:{stroke:st.nlo, lineWidth:2.5, opacity:0.85}});
    graphics.push(txt(bx + 42, ry, '{i|p}{s|T,j' + subs[k] + '}{n| LO \u00d7 ' + factors[k] + '}', RICH_L, {align:'left', size:12, font:SANS}));
    graphics.push(txt(bx + 189, ry, '{i|p}{s|T,j' + subs[k] + '}{n| NLO \u00d7 ' + factors[k] + '}', RICH_L, {align:'left', size:12, font:SANS}));
  });
});

const chart = echarts.init(document.getElementById('c'), null, {renderer:'canvas'});
chart.setOption({animation:false, backgroundColor:'#fff', grid:grids, xAxis:xAxes, yAxis:yAxes, series:series, graphic:graphics});
</script></body></html>
